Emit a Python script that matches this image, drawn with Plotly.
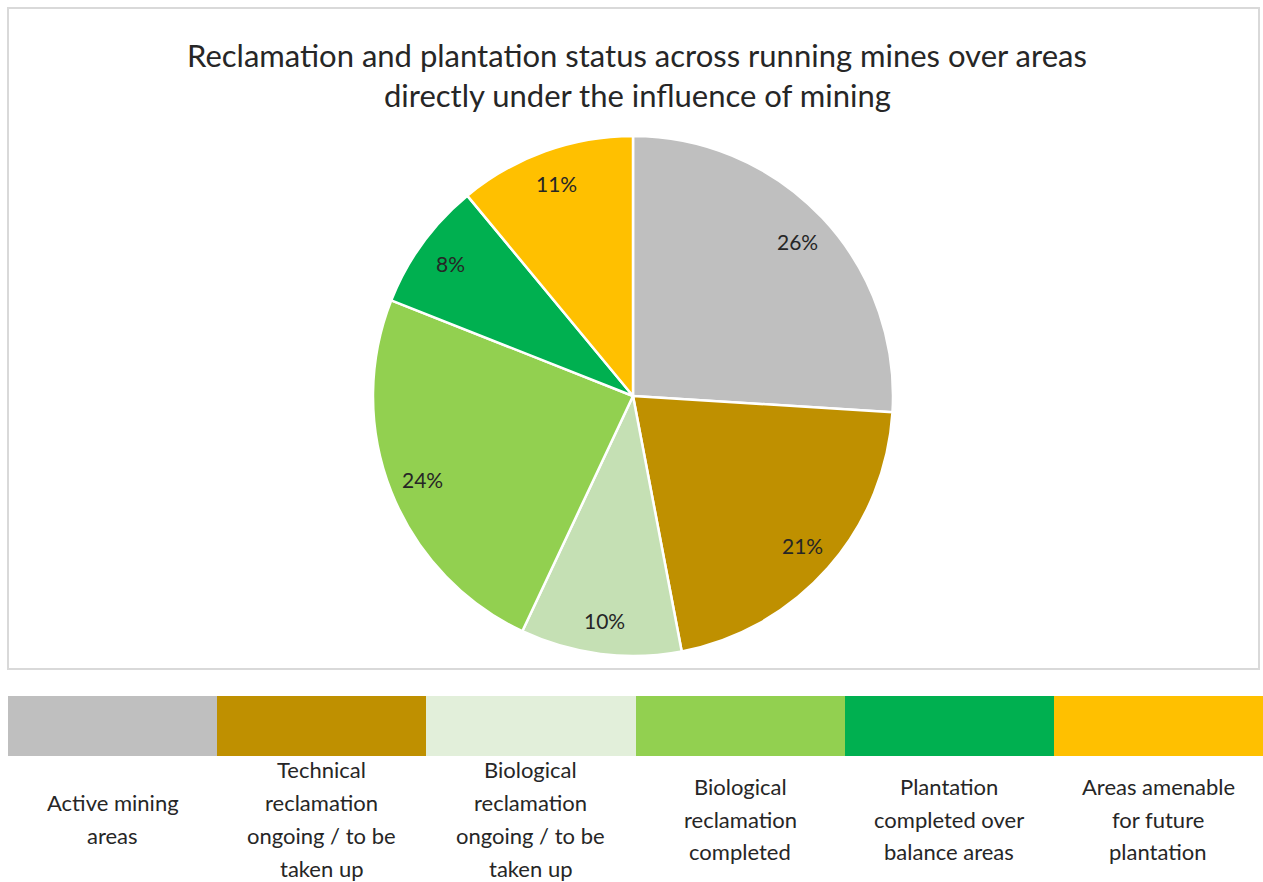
import math
import plotly.graph_objects as go

# Share of mine-influenced area by reclamation / plantation status (%)
categories = [
    "Active mining areas",
    "Technical reclamation ongoing / to be taken up",
    "Biological reclamation ongoing / to be taken up",
    "Biological reclamation completed",
    "Plantation completed over balance areas",
    "Areas amenable for future plantation",
]
shares = [26, 21, 10, 24, 8, 11]
slice_colors = ["#BFBFBF", "#BF9000", "#C5E0B4", "#92D050", "#00B050", "#FFC000"]
key_colors = ["#BFBFBF", "#BF9000", "#E2EFDA", "#92D050", "#00B050", "#FFC000"]
key_lines = [
    ["Active mining", "areas"],
    ["Technical", "reclamation", "ongoing / to be", "taken up"],
    ["Biological", "reclamation", "ongoing / to be", "taken up"],
    ["Biological", "reclamation", "completed"],
    ["Plantation", "completed over", "balance areas"],
    ["Areas amenable", "for future", "plantation"],
]
title_lines = [
    "Reclamation and plantation status across running mines over areas",
    "directly under the influence of mining",
]

W, H = 1263, 882
FONT = "Lato, 'Open Sans', sans-serif"
TEXT = "#262626"

def px(x):
    return x / W

def py(y):
    return 1 - y / H

# pie geometry (pixels)
cx, cy, R = 633, 396, 260

fig = go.Figure()

fig.add_trace(go.Pie(
    labels=categories,
    values=shares,
    sort=False,
    direction="clockwise",
    rotation=0,
    marker=dict(colors=slice_colors, line=dict(color="white", width=2.5)),
    textinfo="none",
    hoverinfo="skip",
    showlegend=False,
    domain=dict(x=[px(cx - R), px(cx + R)], y=[py(cy + R), py(cy - R)]),
))

# colour key strip under the chart
fig.add_trace(go.Bar(
    x=list(range(len(categories))),
    y=[1] * len(categories),
    width=1,
    marker=dict(color=key_colors, line=dict(width=0)),
    hoverinfo="skip",
    showlegend=False,
    xaxis="x",
    yaxis="y",
))

annotations = []

# percentage labels placed along each slice's mid-angle
total = sum(shares)
cum = 0
for v in shares:
    mid = (cum + v / 2) / total * 2 * math.pi
    cum += v
    r = 0.87 * R
    lx = cx + r * math.sin(mid)
    ly = cy - r * math.cos(mid)
    annotations.append(dict(
        x=px(lx), y=py(ly), xref="paper", yref="paper",
        text=f"{v}%", showarrow=False,
        font=dict(family=FONT, size=21, color=TEXT),
        xanchor="center", yanchor="middle",
    ))

# chart title
for i, line in enumerate(title_lines):
    annotations.append(dict(
        x=px(637), y=py(55 + 40 * i), xref="paper", yref="paper",
        text=line, showarrow=False,
        font=dict(family=FONT, size=31, color=TEXT),
        xanchor="center", yanchor="middle",
    ))

# key labels, one annotation per text line
line_gap = 32.7
for i, lines in enumerate(key_lines):
    n = len(lines)
    for j, t in enumerate(lines):
        yy = 819 + (j - (n - 1) / 2) * line_gap
        annotations.append(dict(
            x=i, y=py(yy), xref="x", yref="paper",
            text=t, showarrow=False,
            font=dict(family=FONT, size=22, color=TEXT),
            xanchor="center", yanchor="middle",
        ))

fig.update_layout(
    width=W, height=H,
    margin=dict(l=0, r=0, t=0, b=0),
    paper_bgcolor="white",
    plot_bgcolor="rgba(0,0,0,0)",
    bargap=0,
    xaxis=dict(domain=[px(8), 1], range=[-0.5, 5.5], visible=False, fixedrange=True),
    yaxis=dict(domain=[py(756), py(696)], range=[0, 1], visible=False, fixedrange=True),
    annotations=annotations,
    shapes=[dict(
        type="rect", xref="paper", yref="paper",
        x0=px(8), x1=px(1259), y0=py(669), y1=py(8),
        line=dict(color="#D9D9D9", width=2), fillcolor="rgba(0,0,0,0)",
        layer="below",
    )],
)

fig.write_html("out.html")
